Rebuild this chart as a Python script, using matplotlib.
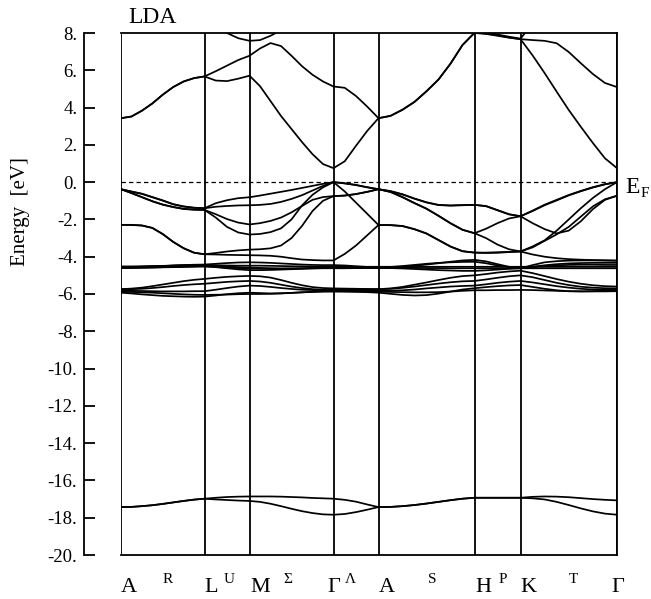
import matplotlib
matplotlib.use('Agg')
import matplotlib.pyplot as plt
import matplotlib.transforms as mtransforms
import numpy as np

plt.rcParams['font.family'] = ['Liberation Serif', 'DejaVu Serif']

# k-path: high symmetry points, the line names between them, segment lengths
kpoint_labels = ['A', 'L', 'M', 'Γ', 'A', 'H', 'K', 'Γ']
line_labels = ['R', 'U', 'Σ', 'Λ', 'S', 'P', 'T']
segment_lengths = [83.5, 45.0, 84.0, 45.0, 96.0, 46.0, 96.5]
segment_steps = [8, 4, 8, 4, 8, 4, 8]

# band energies (eV) read at every step along the path
# rows: A-L | L-M | M-G | G-A | A-H | H-K | K-G
cb1 = [3.43, 3.52, 3.83, 4.22, 4.69, 5.10, 5.40, 5.58, 5.67,
       5.45, 5.42, 5.55, 5.71,
       5.15, 4.35, 3.55, 2.85, 2.15, 1.50, 0.97, 0.75,
       1.12, 1.95, 2.75, 3.43,
       3.55, 3.88, 4.30, 4.87, 5.50, 6.35, 7.35, 8.00,
       7.95, 7.85, 7.75, 7.67,
       6.80, 5.85, 4.85, 3.87, 2.97, 2.10, 1.28, 0.75]
cb2 = [3.43, 3.52, 3.83, 4.22, 4.69, 5.10, 5.40, 5.58, 5.67,
       5.95, 6.25, 6.55, 6.78,
       7.17, 7.46, 7.30, 6.78, 6.22, 5.76, 5.40, 5.13,
       5.06, 4.62, 4.05, 3.43,
       3.56, 3.89, 4.31, 4.88, 5.51, 6.36, 7.36, 8.02,
       7.97, 7.88, 7.76, 7.67,
       7.62, 7.58, 7.45, 6.98, 6.38, 5.80, 5.32, 5.10]
cb3 = [9.50, 9.45, 9.40, 9.30, 9.20, 9.10, 9.00, 8.85, 8.70,
       8.45, 8.00, 7.72, 7.58,
       7.62, 7.85, 8.15, 8.45, 8.70, 8.90, 9.10, 9.20,
       9.30, 9.40, 9.50, 9.50,
       9.40, 9.30, 9.10, 8.90, 8.70, 8.50, 8.30, 8.15,
       8.05, 7.92, 7.80, 7.70,
       8.50, 9.00, 9.30, 9.50, 9.50, 9.50, 9.50, 9.50]

vb1 = [-0.38, -0.50, -0.62, -0.80, -0.98, -1.18, -1.30, -1.37, -1.40,
       -1.13, -0.97, -0.86, -0.81,
       -0.72, -0.62, -0.52, -0.42, -0.31, -0.20, -0.09, 0.00,
       -0.06, -0.15, -0.27, -0.38,
       -0.48, -0.65, -0.88, -1.08, -1.22, -1.25, -1.23, -1.22,
       -1.28, -1.50, -1.72, -1.83,
       -1.55, -1.24, -0.98, -0.71, -0.49, -0.29, -0.12, 0.00]
vb2 = [-0.38, -0.51, -0.63, -0.81, -0.99, -1.19, -1.31, -1.38, -1.40,
       -1.32, -1.28, -1.25, -1.24,
       -1.22, -1.17, -1.06, -0.90, -0.70, -0.45, -0.20, 0.00,
       -0.07, -0.16, -0.28, -0.38,
       -0.49, -0.66, -0.89, -1.09, -1.23, -1.26, -1.24, -1.22,
       -1.29, -1.51, -1.73, -1.83,
       -1.53, -1.21, -0.95, -0.69, -0.47, -0.27, -0.11, 0.00]
vb3 = [-0.38, -0.58, -0.80, -1.02, -1.20, -1.33, -1.43, -1.47, -1.49,
       -1.72, -1.98, -2.17, -2.27,
       -2.20, -2.08, -1.90, -1.62, -1.28, -0.95, -0.80, -0.75,
       -0.72, -0.64, -0.52, -0.38,
       -0.52, -0.80, -1.12, -1.42, -1.80, -2.20, -2.55, -2.74,
       -2.50, -2.20, -1.95, -1.83,
       -2.20, -2.52, -2.75, -2.60, -2.10, -1.45, -0.95, -0.73]
vb4 = [-0.38, -0.59, -0.81, -1.03, -1.21, -1.34, -1.44, -1.48, -1.49,
       -1.90, -2.40, -2.70, -2.81,
       -2.78, -2.68, -2.48, -2.00, -1.25, -0.68, -0.28, 0.00,
       -0.50, -1.10, -1.70, -2.30,
       -2.30, -2.35, -2.52, -2.75, -3.10, -3.45, -3.70, -3.78,
       -3.78, -3.76, -3.74, -3.72,
       -3.45, -3.12, -2.60, -2.00, -1.40, -0.85, -0.38, 0.00]
vb5 = [-2.29, -2.29, -2.32, -2.45, -2.78, -3.20, -3.54, -3.78, -3.87,
       -3.80, -3.72, -3.66, -3.62,
       -3.60, -3.55, -3.40, -3.00, -2.35, -1.55, -1.00, -0.75,
       -0.72, -0.64, -0.52, -0.38,
       -0.53, -0.81, -1.13, -1.43, -1.81, -2.21, -2.56, -2.74,
       -3.00, -3.35, -3.60, -3.72,
       -3.50, -3.15, -2.80, -2.40, -1.85, -1.30, -0.92, -0.73]
vb6 = [-2.29, -2.30, -2.33, -2.46, -2.79, -3.21, -3.55, -3.79, -3.87,
       -3.88, -3.90, -3.91, -3.92,
       -3.93, -3.95, -4.00, -4.08, -4.15, -4.18, -4.20, -4.20,
       -3.85, -3.40, -2.85, -2.30,
       -2.31, -2.36, -2.53, -2.76, -3.11, -3.46, -3.71, -3.78,
       -3.80, -3.79, -3.75, -3.72,
       -3.88, -4.00, -4.08, -4.13, -4.16, -4.18, -4.19, -4.20]

# Zn 3d bundle
d1 = [-4.52, -4.52, -4.51, -4.50, -4.49, -4.48, -4.47, -4.46, -4.46,
      -4.46, -4.47, -4.48, -4.48,
      -4.48, -4.49, -4.50, -4.51, -4.52, -4.53, -4.54, -4.54,
      -4.54, -4.54, -4.54, -4.54,
      -4.54, -4.54, -4.54, -4.54, -4.54, -4.54, -4.54, -4.54,
      -4.54, -4.54, -4.54, -4.54,
      -4.54, -4.54, -4.54, -4.54, -4.54, -4.54, -4.54, -4.54]
d2 = [-4.60, -4.60, -4.59, -4.58, -4.57, -4.56, -4.55, -4.54, -4.53,
      -4.55, -4.58, -4.61, -4.63,
      -4.64, -4.64, -4.64, -4.63, -4.63, -4.62, -4.62, -4.62,
      -4.62, -4.61, -4.61, -4.60,
      -4.60, -4.60, -4.60, -4.61, -4.61, -4.62, -4.62, -4.62,
      -4.62, -4.62, -4.62, -4.62,
      -4.62, -4.62, -4.62, -4.62, -4.62, -4.62, -4.62, -4.62]
d3 = [-4.58, -4.57, -4.55, -4.53, -4.50, -4.47, -4.45, -4.43, -4.42,
      -4.38, -4.34, -4.31, -4.30,
      -4.31, -4.33, -4.36, -4.39, -4.42, -4.44, -4.45, -4.45,
      -4.47, -4.51, -4.55, -4.58,
      -4.57, -4.54, -4.49, -4.42, -4.35, -4.27, -4.20, -4.17,
      -4.25, -4.40, -4.54, -4.62,
      -4.45, -4.30, -4.24, -4.21, -4.20, -4.20, -4.21, -4.22]
d4 = [-4.60, -4.60, -4.59, -4.58, -4.56, -4.55, -4.53, -4.51, -4.50,
      -4.56, -4.62, -4.68, -4.72,
      -4.72, -4.71, -4.69, -4.67, -4.65, -4.63, -4.61, -4.60,
      -4.60, -4.60, -4.60, -4.60,
      -4.61, -4.63, -4.66, -4.69, -4.72, -4.74, -4.76, -4.76,
      -4.73, -4.69, -4.65, -4.62,
      -4.55, -4.49, -4.46, -4.44, -4.43, -4.43, -4.44, -4.44]
d5 = [-5.74, -5.71, -5.66, -5.58, -5.49, -5.40, -5.31, -5.24, -5.19,
      -5.13, -5.08, -5.05, -5.03,
      -5.05, -5.12, -5.25, -5.40, -5.53, -5.63, -5.68, -5.70,
      -5.71, -5.72, -5.73, -5.74,
      -5.70, -5.62, -5.50, -5.38, -5.25, -5.13, -5.04, -5.00,
      -4.93, -4.85, -4.79, -4.75,
      -4.88, -5.04, -5.20, -5.34, -5.45, -5.53, -5.58, -5.60]
d6 = [-5.74, -5.74, -5.72, -5.68, -5.63, -5.57, -5.52, -5.48, -5.45,
      -5.40, -5.35, -5.32, -5.30,
      -5.33, -5.40, -5.50, -5.60, -5.68, -5.74, -5.77, -5.78,
      -5.77, -5.76, -5.75, -5.74,
      -5.72, -5.67, -5.60, -5.52, -5.44, -5.37, -5.32, -5.30,
      -5.22, -5.13, -5.05, -5.00,
      -5.10, -5.25, -5.40, -5.52, -5.61, -5.66, -5.69, -5.70]
d7 = [-5.82, -5.83, -5.84, -5.85, -5.86, -5.86, -5.86, -5.85, -5.85,
      -5.77, -5.68, -5.60, -5.55,
      -5.57, -5.62, -5.68, -5.73, -5.77, -5.79, -5.80, -5.80,
      -5.80, -5.81, -5.81, -5.82,
      -5.82, -5.80, -5.76, -5.70, -5.65, -5.60, -5.57, -5.55,
      -5.48, -5.40, -5.34, -5.30,
      -5.38, -5.48, -5.58, -5.66, -5.72, -5.76, -5.78, -5.78]
d8 = [-5.93, -5.97, -6.02, -6.06, -6.10, -6.12, -6.14, -6.15, -6.14,
      -6.08, -6.01, -5.96, -5.93,
      -5.95, -5.97, -5.96, -5.94, -5.91, -5.88, -5.86, -5.85,
      -5.86, -5.88, -5.90, -5.93,
      -5.99, -6.05, -6.08, -6.06, -5.98, -5.87, -5.76, -5.69,
      -5.63, -5.58, -5.54, -5.52,
      -5.62, -5.72, -5.80, -5.85, -5.86, -5.85, -5.83, -5.82]
d9 = [-5.88, -5.89, -5.91, -5.93, -5.96, -5.99, -6.02, -6.04, -6.05,
      -6.04, -6.03, -6.01, -6.00,
      -6.00, -5.99, -5.97, -5.94, -5.91, -5.89, -5.87, -5.87,
      -5.87, -5.87, -5.88, -5.88,
      -5.89, -5.90, -5.91, -5.91, -5.90, -5.87, -5.83, -5.80,
      -5.80, -5.79, -5.79, -5.78,
      -5.79, -5.81, -5.83, -5.85, -5.86, -5.86, -5.86, -5.85]
d10 = [-4.58, -4.56, -4.54, -4.52, -4.50, -4.48, -4.46, -4.45, -4.45,
       -4.48, -4.52, -4.56, -4.58,
       -4.60, -4.62, -4.63, -4.63, -4.62, -4.60, -4.58, -4.57,
       -4.57, -4.58, -4.58, -4.58,
       -4.55, -4.50, -4.44, -4.38, -4.33, -4.30, -4.28, -4.27,
       -4.35, -4.47, -4.56, -4.60,
       -4.54, -4.46, -4.40, -4.36, -4.34, -4.33, -4.33, -4.33]

# O 2s bands
s1 = [-17.43, -17.42, -17.38, -17.33, -17.26, -17.18, -17.10, -17.03, -16.98,
      -16.93, -16.89, -16.87, -16.86,
      -16.86, -16.86, -16.87, -16.89, -16.91, -16.94, -16.96, -16.98,
      -17.04, -17.14, -17.29, -17.43,
      -17.42, -17.38, -17.32, -17.24, -17.15, -17.06, -16.98, -16.93,
      -16.93, -16.93, -16.93, -16.93,
      -16.88, -16.86, -16.87, -16.90, -16.95, -17.00, -17.04, -17.07]
s2 = [-17.43, -17.42, -17.38, -17.33, -17.26, -17.18, -17.10, -17.03, -16.98,
      -17.02, -17.05, -17.08, -17.10,
      -17.15, -17.25, -17.38, -17.52, -17.65, -17.75, -17.82, -17.84,
      -17.80, -17.70, -17.57, -17.43,
      -17.42, -17.38, -17.32, -17.24, -17.15, -17.06, -16.98, -16.93,
      -16.93, -16.93, -16.93, -16.93,
      -16.96, -17.02, -17.15, -17.32, -17.50, -17.66, -17.78, -17.84]

bands = [cb1, cb2, cb3, vb1, vb2, vb3, vb4, vb5, vb6,
         d1, d2, d3, d4, d5, d6, d7, d8, d9, d10, s1, s2]

# build the k axis from the segments
nodes = np.concatenate([[0.0], np.cumsum(segment_lengths)])
k = [0.0]
for i in range(len(segment_lengths)):
    k.extend(np.linspace(nodes[i], nodes[i + 1], segment_steps[i] + 1)[1:])
k = np.array(k)

W, H = 651, 599
fig = plt.figure(figsize=(W / 100, H / 100), dpi=100)
ax = fig.add_axes([121 / W, 44 / H, 496 / W, 522 / H])

for b in bands:
    ax.plot(k, b, color='black', lw=1.25, solid_joinstyle='round')
for x in nodes:
    ax.axvline(x, color='black', lw=1.3)
ax.axhline(0, color='black', lw=0.9, ls=(0, (3.5, 2.5)))

ax.set_xlim(nodes[0], nodes[-1])
ax.set_ylim(-20, 8)

for side in ['left', 'right', 'top', 'bottom']:
    ax.spines[side].set_linewidth(1.3)
ax.spines['left'].set_position(('outward', 27))

yt = list(range(-20, 9, 2))
ax.set_yticks(yt)
ax.set_yticklabels([f'{v}.' for v in yt])
ax.tick_params(axis='y', direction='in', length=8, width=1.3, labelsize=13.5, pad=4.5)
ax.set_xticks([])

# point and line labels under the frame (offsets in path units)
trans = mtransforms.blended_transform_factory(ax.transData, fig.transFigure)
point_dx = [8, 6.5, 10.5, 0, 8, 9, 8, 0.5]
for x, lab, dx in zip(nodes, kpoint_labels, point_dx):
    ax.text(x + dx, 1 - 592 / H, lab, transform=trans, ha='center', va='baseline',
            fontsize=16, clip_on=False)
mids = (nodes[:-1] + nodes[1:]) / 2
line_dx = [4.75, 2.5, -3.5, -6, 5.5, 5.5, 5]
for x, lab, dx in zip(mids, line_labels, line_dx):
    ax.text(x + dx, 1 - 583 / H, lab, transform=trans, ha='center', va='baseline',
            fontsize=11, clip_on=False)

fig.text(128 / W, 1 - 23 / H, 'LDA', fontsize=17, ha='left', va='baseline')
fig.text(21 / W, 1 - 211.5 / H, 'Energy  [eV]', rotation=90, ha='center', va='center',
         fontsize=15)
fig.text(625 / W, 1 - 193 / H, 'E', fontsize=17, ha='left', va='baseline')
fig.text(641 / W, 1 - 197 / H, 'F', fontsize=11, ha='left', va='baseline')

fig.savefig('out.png', dpi=100)
